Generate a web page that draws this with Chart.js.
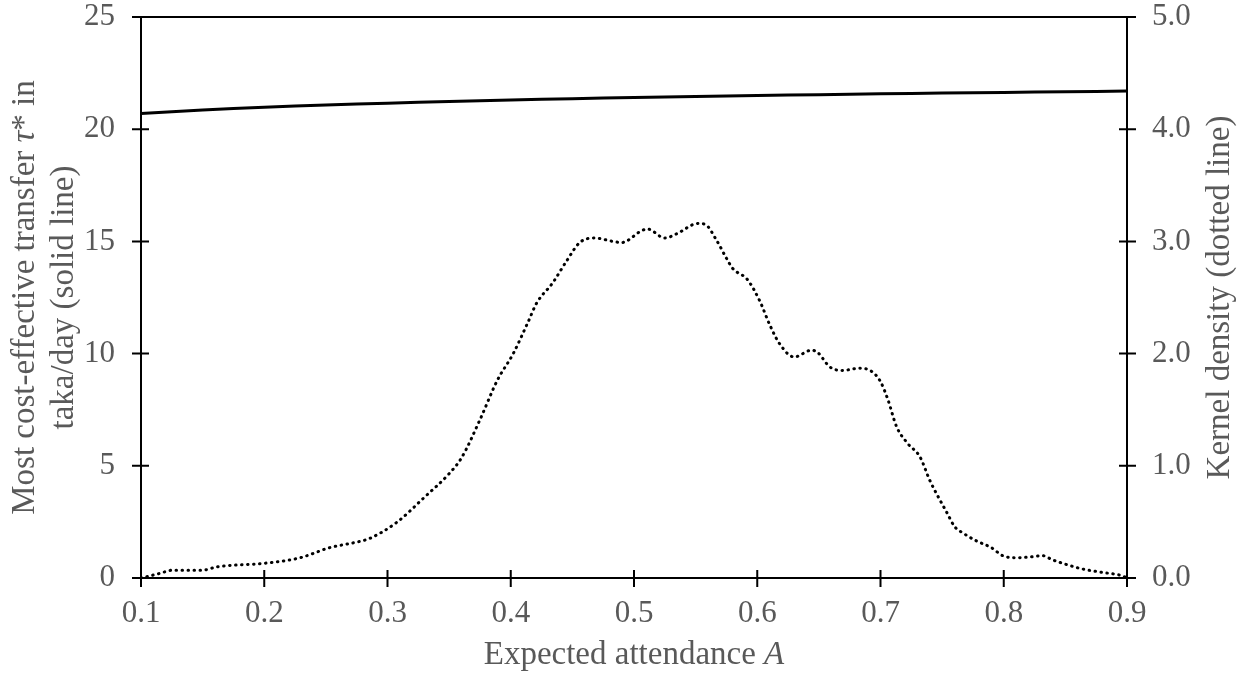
<!DOCTYPE html>
<html>
<head>
<meta charset="utf-8">
<script src="https://cdn.jsdelivr.net/npm/chart.js@4.4.0/dist/chart.umd.min.js"></script>
<style>
  html, body { margin: 0; padding: 0; background: #fff; }
  #wrap { width: 1249px; height: 677px; }
</style>
</head>
<body>
<div id="wrap"><canvas id="chart"></canvas></div>
<script>
// Most cost-effective transfer (solid line, left axis)
const transferX = [0.10, 0.15, 0.20, 0.25, 0.30, 0.35, 0.40, 0.45, 0.50, 0.55, 0.60, 0.65, 0.70, 0.75, 0.80, 0.85, 0.90];
const transferY = [20.70, 20.86, 20.98, 21.08, 21.16, 21.23, 21.30, 21.36, 21.41, 21.46, 21.50, 21.54, 21.58, 21.61, 21.64, 21.67, 21.70];

// Kernel density (dotted line, right axis)
const densityX = [0.100, 0.115, 0.126, 0.150, 0.162, 0.199, 0.229, 0.253, 0.275, 0.285, 0.308, 0.329, 0.350, 0.360,
  0.375, 0.389, 0.402, 0.414, 0.421, 0.434, 0.445, 0.456, 0.468, 0.483, 0.490, 0.507, 0.511, 0.525, 0.535, 0.552,
  0.558, 0.567, 0.575, 0.580, 0.592, 0.602, 0.610, 0.618, 0.630, 0.644, 0.649, 0.659, 0.669, 0.683, 0.693, 0.700,
  0.706, 0.713, 0.722, 0.732, 0.740, 0.747, 0.754, 0.760, 0.767, 0.778, 0.790, 0.799, 0.809, 0.824, 0.831, 0.840,
  0.851, 0.864, 0.880, 0.896, 0.900];
const densityY = [0.00, 0.04, 0.07, 0.07, 0.10, 0.13, 0.18, 0.27, 0.32, 0.35, 0.50, 0.71, 0.93, 1.07,
  1.41, 1.76, 2.00, 2.28, 2.45, 2.63, 2.82, 2.99, 3.03, 3.00, 2.99, 3.10, 3.11, 3.03, 3.07, 3.16,
  3.15, 3.01, 2.85, 2.76, 2.66, 2.47, 2.26, 2.09, 1.97, 2.03, 2.01, 1.88, 1.85, 1.87, 1.84, 1.75,
  1.59, 1.35, 1.20, 1.08, 0.87, 0.72, 0.58, 0.46, 0.40, 0.33, 0.27, 0.20, 0.18, 0.19, 0.20, 0.16,
  0.12, 0.08, 0.05, 0.02, 0.00];

const xTicks = [0.1, 0.2, 0.3, 0.4, 0.5, 0.6, 0.7, 0.8, 0.9];
const leftTicks = [0, 5, 10, 15, 20, 25];
const rightTicks = [0, 1, 2, 3, 4, 5];

const serif = "'Liberation Serif', 'Times New Roman', serif";
const grey = '#595959';

// tick marks crossing the axes, top frame line and the mixed-style axis titles
const decor = {
  id: 'decor',
  afterDraw(chart) {
    const ctx = chart.ctx;
    const a = chart.chartArea;
    const sx = chart.scales.x, sy = chart.scales.y, sy1 = chart.scales.y1;
    ctx.save();
    ctx.strokeStyle = '#000';
    ctx.lineWidth = 2;
    ctx.beginPath();
    ctx.moveTo(a.left - 9, a.top);
    ctx.lineTo(a.right, a.top);
    xTicks.forEach(v => {
      const p = sx.getPixelForValue(v);
      ctx.moveTo(p, a.bottom - 8);
      ctx.lineTo(p, a.bottom + 9);
    });
    leftTicks.forEach(v => {
      const p = sy.getPixelForValue(v);
      ctx.moveTo(a.left - 9, p);
      ctx.lineTo(a.left + 8, p);
    });
    rightTicks.forEach(v => {
      const p = sy1.getPixelForValue(v);
      ctx.moveTo(a.right - 8, p);
      ctx.lineTo(a.right + 9, p);
    });
    ctx.stroke();

    ctx.fillStyle = grey;
    ctx.textBaseline = 'middle';
    const reg = '33px ' + serif, ital = 'italic 33px ' + serif;
    const drawRuns = (runs, cx, cy) => {
      let w = 0;
      runs.forEach(r => { ctx.font = r[1]; w += ctx.measureText(r[0]).width; });
      let x = cx - w / 2;
      runs.forEach(r => {
        ctx.font = r[1];
        ctx.textAlign = 'left';
        ctx.fillText(r[0], x, cy);
        x += ctx.measureText(r[0]).width;
      });
    };
    const midY = (a.top + a.bottom) / 2;
    drawRuns([['Expected attendance ', reg], ['A', ital]], (a.left + a.right) / 2, 655);

    ctx.save();
    ctx.translate(25, midY);
    ctx.rotate(-Math.PI / 2);
    drawRuns([['Most cost-effective transfer ', reg], ['τ', ital], ['* in', reg]], 0, 0);
    ctx.restore();
    ctx.save();
    ctx.translate(64, midY);
    ctx.rotate(-Math.PI / 2);
    drawRuns([['taka/day (solid line)', reg]], 0, 0);
    ctx.restore();
    ctx.save();
    ctx.translate(1220, midY);
    ctx.rotate(-Math.PI / 2);
    drawRuns([['Kernel density (dotted line)', reg]], 0, 0);
    ctx.restore();
    ctx.restore();
  }
};

const noPad = s => { s.paddingTop = 0; s.paddingBottom = 0; };

new Chart(document.getElementById('chart'), {
  type: 'scatter',
  data: {
    datasets: [{
      label: 'Transfer',
      data: transferX.map((x, i) => ({ x: x, y: transferY[i] })),
      showLine: true,
      borderColor: '#000',
      borderWidth: 3,
      pointRadius: 0,
      tension: 0.4,
      yAxisID: 'y'
    }, {
      label: 'Density',
      data: densityX.map((x, i) => ({ x: x, y: densityY[i] })),
      showLine: true,
      borderColor: '#000',
      borderWidth: 3,
      borderDash: [0.5, 5.5],
      borderCapStyle: 'round',
      pointRadius: 0,
      cubicInterpolationMode: 'monotone',
      yAxisID: 'y1'
    }]
  },
  options: {
    responsive: true,
    maintainAspectRatio: false,
    animation: false,
    layout: { padding: { top: 17, left: 0, right: 0, bottom: 0 } },
    plugins: { legend: { display: false }, tooltip: { enabled: false } },
    scales: {
      x: {
        type: 'linear',
        min: 0.1, max: 0.9,
        afterFit: s => { s.height = 99; s.paddingLeft = 0; s.paddingRight = 0; },
        afterBuildTicks: s => { s.ticks = xTicks.map(v => ({ value: v })); },
        grid: { display: false, drawTicks: false },
        border: { display: true, color: '#000', width: 2 },
        ticks: { color: grey, font: { family: serif, size: 31 }, padding: 17, maxRotation: 0,
          callback: v => v.toFixed(1) }
      },
      y: {
        position: 'left',
        min: 0, max: 25,
        afterFit: s => { s.width = 141; noPad(s); },
        afterBuildTicks: s => { s.ticks = leftTicks.map(v => ({ value: v })); },
        grid: { display: false, drawTicks: false },
        border: { display: true, color: '#000', width: 2 },
        ticks: { color: grey, font: { family: serif, size: 31 }, padding: 26 }
      },
      y1: {
        position: 'right',
        min: 0, max: 5,
        afterFit: s => { s.width = 122; noPad(s); },
        afterBuildTicks: s => { s.ticks = rightTicks.map(v => ({ value: v })); },
        grid: { display: false, drawTicks: false },
        border: { display: true, color: '#000', width: 2 },
        ticks: { color: grey, font: { family: serif, size: 31 }, padding: 25,
          callback: v => v.toFixed(1) }
      }
    }
  },
  plugins: [decor]
});
</script>
</body>
</html>
